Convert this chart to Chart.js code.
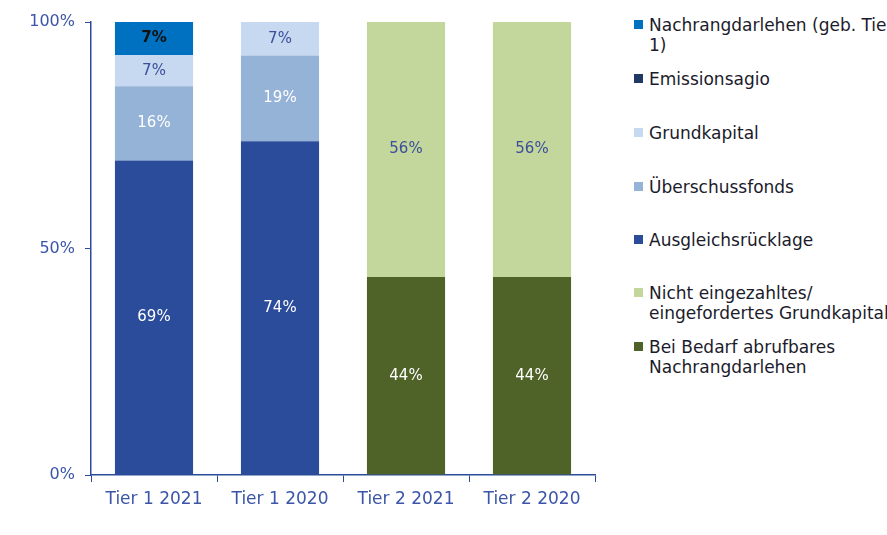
<!DOCTYPE html>
<html>
<head>
<meta charset="utf-8">
<script src="https://cdn.jsdelivr.net/npm/chart.js@4.4.0/dist/chart.umd.min.js"></script>
<style>
  html, body { margin: 0; padding: 0; background: #fff; overflow: hidden; }
  #wrap { position: relative; width: 887px; height: 535px; overflow: hidden; }
  #chartBox { position: absolute; left: 0; top: 0; width: 605px; height: 535px; }
  #legend { position: absolute; left: 634px; top: 0; width: 300px; font-family: "DejaVu Sans", Verdana, sans-serif; font-size: 17px; color: #1b1b2b; }
  .item { position: absolute; left: 0; width: 300px; line-height: 20px; white-space: nowrap; }
  .sw { position: absolute; left: 0; top: 5px; width: 9px; height: 9px; }
  .txt { margin-left: 15px; }
</style>
</head>
<body>
<div id="wrap">
  <div id="chartBox"><canvas id="capital"></canvas></div>
  <div id="legend"></div>
</div>
<script>
// Data
var categories = ['Tier 1 2021', 'Tier 1 2020', 'Tier 2 2021', 'Tier 2 2020'];

var ausgleichsruecklage = [69.4, 73.7, 0, 0];
var ueberschussfonds    = [16.4, 18.9, 0, 0];
var grundkapital        = [6.9, 7.4, 0, 0];
var emissionsagio       = [0, 0, 0, 0];
var nachrangdarlehen    = [7.3, 0, 0, 0];
var abrufbaresNR        = [0, 0, 43.7, 43.7];
var nichtEingezahlt     = [0, 0, 56.3, 56.3];

var yTicks = [0, 50, 100];

// stacking order bottom -> top; lines = legend text as wrapped in the original
var series = [
  { label: 'Ausgleichsrücklage', lines: ['Ausgleichsrücklage'], data: ausgleichsruecklage, color: '#2B4C9B', text: '#ffffff', y: 240 },
  { label: 'Überschussfonds', lines: ['Überschussfonds'], data: ueberschussfonds, color: '#95B3D7', text: '#ffffff', y: 187 },
  { label: 'Grundkapital', lines: ['Grundkapital'], data: grundkapital, color: '#C6D9F0', text: '#3b4f9a', y: 133 },
  { label: 'Emissionsagio', lines: ['Emissionsagio'], data: emissionsagio, color: '#1F3864', text: '#ffffff', y: 79 },
  { label: 'Nachrangdarlehen (geb. Tier 1)', lines: ['Nachrangdarlehen (geb. Tier', '1)'], data: nachrangdarlehen, color: '#0070C0', text: '#111111', bold: true, y: 25 },
  { label: 'Bei Bedarf abrufbares Nachrangdarlehen', lines: ['Bei Bedarf abrufbares', 'Nachrangdarlehen'], data: abrufbaresNR, color: '#4F6228', text: '#ffffff', y: 347 },
  { label: 'Nicht eingezahltes/ eingefordertes Grundkapital', lines: ['Nicht eingezahltes/', 'eingefordertes Grundkapital'], data: nichtEingezahlt, color: '#C3D69B', text: '#3b4f9a', y: 293 }
];

var axisBlue = '#2B4C9B';
var fontFam = '"DejaVu Sans", Verdana, sans-serif';

var barLabels = {
  id: 'barLabels',
  afterDatasetsDraw: function (chart) {
    var ctx = chart.ctx;
    chart.data.datasets.forEach(function (ds, i) {
      var meta = chart.getDatasetMeta(i);
      meta.data.forEach(function (bar, j) {
        var v = ds.data[j];
        if (!v) return;
        ctx.save();
        ctx.font = (series[i].bold ? 'bold ' : '') + '15px ' + fontFam;
        ctx.fillStyle = series[i].text;
        ctx.textAlign = 'center';
        ctx.textBaseline = 'middle';
        ctx.fillText(Math.round(v) + '%', bar.x, (bar.y + bar.base) / 2);
        ctx.restore();
      });
    });
  }
};

var ctx = document.getElementById('capital').getContext('2d');
var chart = new Chart(ctx, {
  type: 'bar',
  data: {
    labels: categories,
    datasets: series.map(function (s) {
      return {
        label: s.label,
        data: s.data,
        backgroundColor: s.color,
        borderWidth: 0,
        barPercentage: 0.62,
        categoryPercentage: 1
      };
    })
  },
  options: {
    responsive: true,
    maintainAspectRatio: false,
    animation: false,
    layout: { padding: { top: 22, right: 10, left: 0, bottom: 0 } },
    plugins: { legend: { display: false }, tooltip: { enabled: false } },
    scales: {
      x: {
        stacked: true,
        afterFit: function (s) { s.height = 60; },
        border: { color: axisBlue, width: 1.5 },
        grid: { offset: true, drawOnChartArea: false, color: axisBlue, tickLength: 7 },
        ticks: { color: '#3b55a8', padding: 7, font: { family: fontFam, size: 17 } }
      },
      y: {
        stacked: true,
        min: 0, max: 100,
        afterFit: function (s) { s.width = 91; },
        afterBuildTicks: function (s) { s.ticks = yTicks.map(function (v) { return { value: v }; }); },
        border: { color: axisBlue, width: 1.5 },
        grid: { drawOnChartArea: false, color: axisBlue, tickLength: 6 },
        ticks: {
          color: '#3b55a8', padding: 10,
          font: { family: fontFam, size: 16 },
          callback: function (v) { return v + '%'; }
        }
      }
    }
  },
  plugins: [barLabels]
});

// legend, in the order shown on the right
var legendOrder = [4, 3, 2, 1, 0, 6, 5];
var legend = document.getElementById('legend');
legendOrder.forEach(function (i) {
  var s = series[i];
  var item = document.createElement('div');
  item.className = 'item';
  item.style.top = (s.y - 10) + 'px';
  item.innerHTML = '<span class="sw" style="background:' + s.color + '"></span><div class="txt">' + s.lines.join('<br>') + '</div>';
  legend.appendChild(item);
});
</script>
</body>
</html>
